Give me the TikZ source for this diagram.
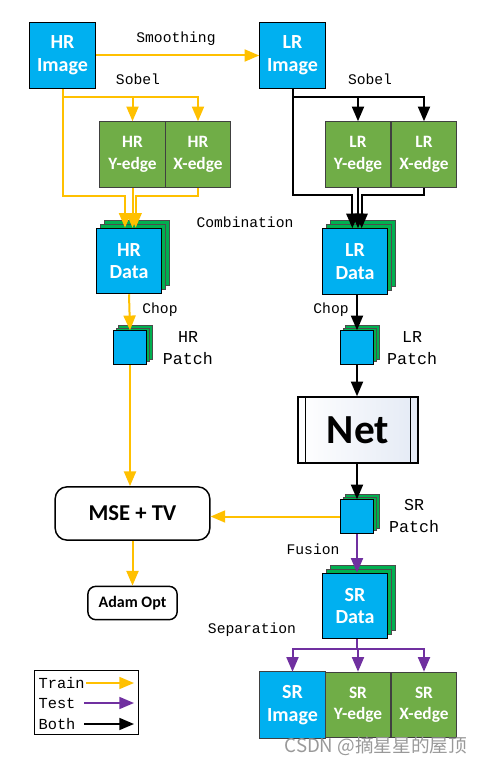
\documentclass[tikz,border=0pt]{standalone}
\usepackage{fontspec}
\setmainfont{Carlito}
\setmonofont{Liberation Mono}
\newfontfamily\cjkfont{Noto Sans CJK SC}
\usetikzlibrary{arrows.meta,shadows}

\definecolor{imgblue}{HTML}{00B0F0}
\definecolor{edgegreen}{HTML}{70AD47}
\definecolor{stackgreen}{HTML}{00B050}
\definecolor{trainc}{HTML}{FFC000}
\definecolor{testc}{HTML}{7030A0}
\definecolor{netshade}{HTML}{E4EAF5}

\begin{document}
\begin{tikzpicture}[x=0.75pt,y=-0.75pt,
    box/.style={draw=black, line width=0.9pt, fill=imgblue, text=white, align=center,
        font=\bfseries\fontsize{15}{17}\selectfont, minimum width=49pt, minimum height=49pt, inner sep=0pt},
    edgebox/.style={box, fill=edgegreen, draw=black!75, font=\bfseries\fontsize{13}{16}\selectfont},
    stacked/.style={double copy shadow={shadow xshift=3pt, shadow yshift=3pt, fill=stackgreen, draw=black!70, line width=0.5pt}},
    patch/.style={draw=black, line width=0.9pt, fill=imgblue, minimum size=25pt, inner sep=0pt,
        double copy shadow={shadow xshift=2pt, shadow yshift=2pt, fill=stackgreen, draw=black!70, line width=0.4pt}},
    rbox/.style={draw=black, line width=1.1pt, fill=white, rounded corners=9pt, font=\bfseries},
    lbl/.style={font=\ttfamily\fontsize{11}{15}\selectfont, align=center, inner sep=1pt},
    plbl/.style={lbl, font=\ttfamily\fontsize{12.5}{17}\selectfont},
    train/.style={draw=trainc, line width=1.5pt, -{Triangle[length=11pt,width=9pt]}},
    test/.style={draw=testc, line width=1.5pt, -{Triangle[length=11pt,width=9pt]}},
    both/.style={draw=black, line width=1.5pt, -{Triangle[length=11pt,width=9pt]}}]

    \useasboundingbox (0,0) rectangle (487,766);

    % source images
    \node[box] (hrimg) at (62.5,55.5) {HR\\Image};
    \node[box] (lrimg) at (292.5,55.5) {LR\\Image};

    % sobel edge maps
    \node[edgebox] (hry) at (132.5,154.5) {HR\\Y-edge};
    \node[edgebox] (hrx) at (198,154.5) {HR\\X-edge};
    \node[edgebox] (lry) at (358,154.5) {LR\\Y-edge};
    \node[edgebox] (lrx) at (424,154.5) {LR\\X-edge};

    % combined data
    \node[box, stacked] (hrdata) at (129,261) {HR\\Data};
    \node[box, stacked] (lrdata) at (355,261.5) {LR\\Data};

    % patches
    \node[patch] (hrpatch) at (130,347.5) {};
    \node[patch] (lrpatch) at (357,347.5) {};
    \node[patch] (srpatch) at (357,516.5) {};

    % network
    \node[draw=black, line width=1.1pt, left color=white, right color=netshade,
        minimum width=90pt, minimum height=49.5pt, font=\bfseries\fontsize{31}{34}\selectfont] (net) at (358,430) {Net};
    \draw[line width=0.8pt] ([xshift=6pt]net.north west) -- ([xshift=6pt]net.south west);
    \draw[line width=0.8pt] ([xshift=-6pt]net.north east) -- ([xshift=-6pt]net.south east);

    % loss and optimiser
    \node[rbox, minimum width=116pt, minimum height=40pt, font=\bfseries\fontsize{17}{20}\selectfont] (mse) at (132.5,513.5) {MSE + TV};
    \node[rbox, rounded corners=6pt, minimum width=67pt, minimum height=25pt, font=\bfseries\fontsize{12}{14}\selectfont] (adam) at (132.5,603) {Adam Opt};

    % separated outputs
    \node[box, stacked] (srdata) at (355,606) {SR\\Data};
    \node[box, draw=none] (srimg) at (292.5,705) {SR\\Image};
    \node[edgebox] (sry) at (358,705) {SR\\Y-edge};
    \node[edgebox] (srx) at (424,705) {SR\\X-edge};
    \draw[black!75, line width=0.9pt] (srimg.north west) rectangle (srimg.south east);

    % HR branch
    \coordinate (hrbus) at (62.5,97);
    \coordinate (hrjoin) at (62.5,196);
    \draw[train] (hrimg.east) -- (lrimg.west);
    \draw[train] (hrimg.south) -- (hrbus) -| (hrx.north);
    \draw[train] (hry.north |- hrbus) -- (hry.north);
    \draw[train] (hrbus) -- (hrjoin) -| ([xshift=-3pt]hrdata.north);
    \draw[train] (hry.south) -- (hry.south |- hrdata.north);
    \draw[train] (hrx.south) |- ([xshift=5pt]hrdata.north |- hrjoin) -- ([xshift=5pt]hrdata.north);
    \draw[train] (hrdata.south) -- (hrpatch.north);
    \draw[train] (hrpatch.south) -- (hrpatch.south |- mse.north);
    \draw[train] (mse.south) -- (mse.south |- adam.north);
    \draw[train] (srpatch.west) -- (srpatch.west -| mse.east);

    % LR branch
    \coordinate (lrbus) at (292.5,97);
    \coordinate (lrjoin) at (292.5,195);
    \draw[both] (lrimg.south) -- (lrbus) -| (lrx.north);
    \draw[both] (lry.north |- lrbus) -- (lry.north);
    \draw[both] (lrbus) -- (lrjoin) -| ([xshift=-2pt]lrdata.north);
    \draw[both] (lry.south) -- (lry.south |- lrdata.north);
    \draw[both] (lrx.south) |- ([xshift=5pt]lrdata.north |- lrjoin) -- ([xshift=5pt]lrdata.north);
    \draw[both] (lrpatch.north |- lrdata.south) -- (lrpatch.north);
    \draw[both] (lrpatch.south) -- (lrpatch.south |- net.north);
    \draw[both] (srpatch.north |- net.south) -- (srpatch.north);

    % test path
    \coordinate (sepbus) at (357,649);
    \draw[test] (srpatch.south) -- (srpatch.south |- srdata.north);
    \draw[test] (sepbus |- srdata.south) -- (sepbus) -| (srimg.north);
    \draw[test] (sepbus) -| (srx.north);
    \draw[test] (sepbus -| sry.north) -- (sry.north);

    % labels
    \node[lbl] (smooth) at (176,39) {Smoothing};
    \node[lbl] (hrsobel) at (138,79) {Sobel};
    \node[lbl] (lrsobel) at (370,79) {Sobel};
    \node[lbl] (comb) at (245,222) {Combination};
    \node[lbl] (hrchop) at (160,310) {Chop};
    \node[lbl] (lrchop) at (331,310) {Chop};
    \node[plbl] (hrplbl) at (188,348) {HR\\Patch};
    \node[plbl] (lrplbl) at (412,348) {LR\\Patch};
    \node[plbl] (srplbl) at (414,516) {SR\\Patch};
    \node[lbl] (fusion) at (313,549) {Fusion};
    \node[lbl] (separ) at (252,630) {Separation};

    % legend
    \draw[line width=0.6pt] (34,670) rectangle (138,734);
    \node[lbl, anchor=west, font=\ttfamily\fontsize{11.5}{15}\selectfont] (trainl) at (37,683) {Train};
    \node[lbl, anchor=west, font=\ttfamily\fontsize{11.5}{15}\selectfont] (testl) at (37,703) {Test};
    \node[lbl, anchor=west, font=\ttfamily\fontsize{11.5}{15}\selectfont] (bothl) at (37,724) {Both};
    \coordinate (traine) at (134,683);
    \coordinate (teste) at (134,703);
    \coordinate (bothe) at (134,724);
    \draw[train, line width=1.2pt] (trainl.east) -- (traine);
    \draw[test, line width=1.2pt] (teste -| 84,0) -- (teste);
    \draw[both, line width=1.2pt] (bothe -| 84,0) -- (bothe);

    % watermark
    \node[text=black!40, font=\cjkfont\fontsize{14}{16}\selectfont, anchor=east] (mark) at (472,746) {CSDN @摘星星的屋顶};
\end{tikzpicture}
\end{document}
